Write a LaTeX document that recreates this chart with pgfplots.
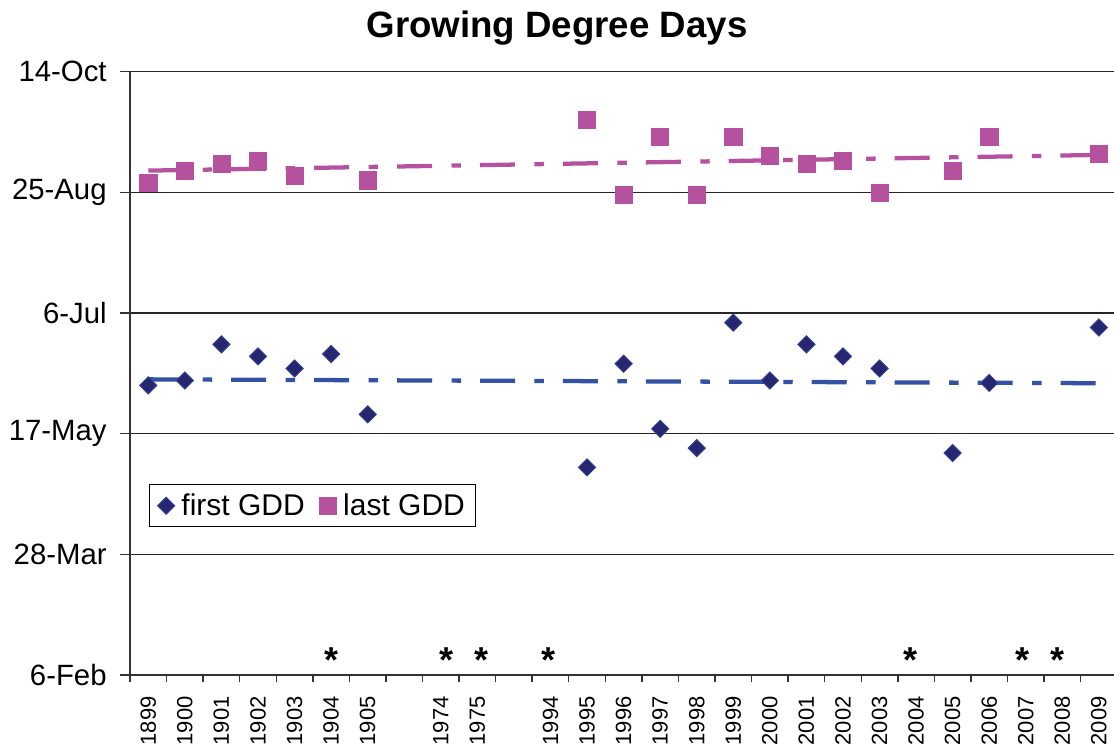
\documentclass[border=0pt]{standalone}
\usepackage{pgfplots}
\pgfplotsset{compat=1.18}
\usepackage{pgfplotstable}
\usetikzlibrary{plotmarks}
\usepackage{fontspec}
\setmainfont{Liberation Sans}
\definecolor{navy}{HTML}{262671}
\definecolor{navyedge}{HTML}{34469A}
\definecolor{pinkm}{HTML}{B5519F}
\definecolor{bluetrend}{HTML}{3352A5}

\pgfplotstableread{
i first last
0 157 241
1 159 246
2 174 249
3 169 250
4 164 244
5 170 nan
6 145 242
12 123 267
13 166 236
14 139 260
15 131 236
16 183 260
17 159 252
18 174 249
19 169 250
20 164 237
22 129 246
23 158 260
26 181 253
}\gdd

\begin{document}
\begin{tikzpicture}
\path[use as bounding box] (-97.5pt,-55.5pt) rectangle (738pt,506.25pt);
\node[anchor=base, font=\bfseries\fontsize{27.5}{32}\selectfont] at (320.25pt,477.75pt) {Growing Degree Days};
\begin{axis}[
  at={(0pt,0pt)}, anchor=south west,
  scale only axis,
  width=740.4pt, height=452.5pt,
  xmin=-0.5, xmax=26.5,
  ymin=37, ymax=287,
  ytick={37,87,137,187,237,287},
  yticklabels={6-Feb,28-Mar,17-May,6-Jul,25-Aug,14-Oct},
  xtick={0,...,26},
  xticklabels={1899,1900,1901,1902,1903,1904,1905,{},1974,1975,{},1994,1995,1996,1997,1998,1999,2000,2001,2002,2003,2004,2005,2006,2007,2008,2009},
  minor xtick={-0.5,0.5,...,26.5},
  major x tick style={draw=none},
  axis lines*=left,
  tick align=outside,
  major tick length=7.5pt,
  minor tick length=5.6pt,
  tick style={line width=1.1pt, draw=black!80},
  axis line style={line width=1.4pt, draw=black!80},
  ymajorgrids,
  major grid style={line width=1.1pt, draw=black!85},
  /pgf/number format/assume math mode=true,
  yticklabel shift=6.5pt,
  xticklabel shift=5pt,
  yticklabel style={font=\fontsize{22}{26}\selectfont},
  xticklabel style={rotate=90, anchor=east, font=\fontsize{16.5}{19}\selectfont},
  legend columns=2,
  legend style={at={(0.0192,0.3166)}, anchor=north west, draw=black, line width=0.8pt,
    font=\fontsize{22.5}{26}\selectfont, inner xsep=6pt, inner ysep=5pt,
    /tikz/every odd column/.append style={column sep=3pt},
    /tikz/every even column/.append style={column sep=9pt}},
  legend image code/.code={\draw[#1] plot coordinates {(5pt,0pt)};},
]
\addplot[forget plot, bluetrend, line width=3.2pt, dash pattern=on 26.25pt off 14.6pt on 7.1pt off 14.25pt] coordinates {(0,159.5) (26,157.9)};
\addplot[forget plot, pinkm, line width=3.2pt, dash pattern=on 26.25pt off 14.6pt on 7.1pt off 14.25pt] coordinates {(0,246.0) (26,252.5)};
\addplot[only marks, mark=square*, mark size=4.6pt, mark options={rotate=45, fill=navy, draw=navyedge, line width=0.6pt}] table[x=i, y=first] {\gdd};
\addlegendentry{first GDD}
\addplot[only marks, mark=square*, mark size=6.4pt, mark options={fill=pinkm, draw=pinkm, line width=0.4pt}] table[x=i, y=last] {\gdd};
\addlegendentry{last GDD}
\addplot[forget plot, only marks, black, mark=text, text mark={\bfseries\fontsize{27}{30}\selectfont *}] coordinates {(5.02,43.3) (8.16,43.3) (9.12,43.3) (10.94,43.3) (20.86,43.3) (23.9,43.3) (24.88,43.3)};
\end{axis}
\end{tikzpicture}
\end{document}
